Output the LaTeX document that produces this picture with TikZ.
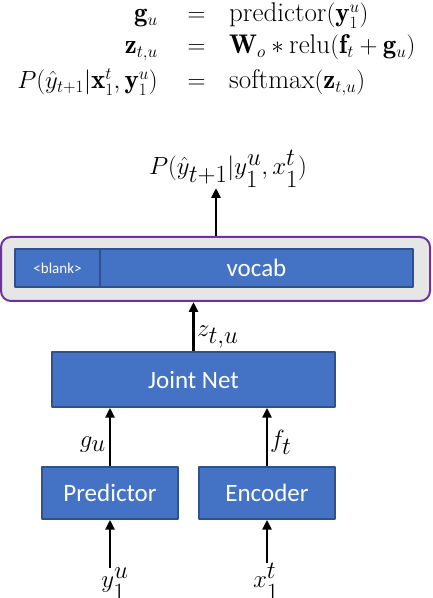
\documentclass[tikz,border=0pt]{standalone}
\usepackage{amsmath,amssymb}
\usepackage{fontspec}
\newfontfamily\boxfont{Carlito}
\usetikzlibrary{arrows.meta, positioning, calc}

\definecolor{netblue}{HTML}{4472C4}
\definecolor{netedge}{HTML}{2F528F}
\definecolor{softgray}{HTML}{E7E6E6}
\definecolor{softpurple}{HTML}{7030A0}

\tikzset{
  netbox/.style={draw=netedge, line width=1.5pt, fill=netblue, text=white,
    font=\boxfont\fontsize{25}{30}\selectfont, inner sep=0pt},
  flow/.style={-{Triangle[length=10pt,width=9pt]}, line width=2.8pt},
  eqtext/.style={inner sep=0pt, font=\fontsize{27}{32}\selectfont},
  sym/.style={inner sep=0pt, font=\fontsize{36}{42}\selectfont},
}

\begin{document}
\begin{tikzpicture}[x=1pt, y=1pt, line join=round]
    \useasboundingbox (0,0) rectangle (432,598);

    % Equations
    \node[eqtext, anchor=base east] (lhsg) at (158,576) {$\mathbf{g}_u$};
    \node[eqtext, anchor=base] (eqg) at (196.5,576) {$=$};
    \node[eqtext, anchor=base west] (rhsg) at (229,576) {$\mathrm{predictor}(\mathbf{y}_1^u)$};

    \node[eqtext, anchor=base east] (lhsz) at (158,544) {$\mathbf{z}_{t,u}$};
    \node[eqtext, anchor=base] (eqz) at (196.5,544) {$=$};
    \node[eqtext, anchor=base west] (rhsz) at (229,544) {$\mathbf{W}_o * \mathrm{relu}(\mathbf{f}_t + \mathbf{g}_u)$};

    \node[eqtext, anchor=base east] (lhsp) at (158,509) {$P(\hat{y}_{t+1}|\mathbf{x}_1^t, \mathbf{y}_1^u)$};
    \node[eqtext, anchor=base] (eqp) at (196.5,509) {$=$};
    \node[eqtext, anchor=base west] (rhsp) at (229,509) {$\mathrm{softmax}(\mathbf{z}_{t,u})$};

    % Output layer
    \node[draw=softpurple, line width=2pt, fill=softgray, rounded corners=10pt,
          minimum width=429, minimum height=64, inner sep=0pt] (softmax) at (215.5,329) {};
    \node[netbox, minimum width=85, minimum height=38,
          font=\boxfont\fontsize{15}{18}\selectfont] (blank) at (57.5,330) {<blank>};
    \node[netbox, minimum width=313, minimum height=38] (vocab) at (256.5,330) {vocab};

    % Network blocks
    \node[netbox, minimum width=283, minimum height=55] (joint) at (193.5,218.5) {Joint Net};
    \node[netbox, minimum width=136, minimum height=52] (pred) at (110,105) {Predictor};
    \node[netbox, minimum width=136, minimum height=52] (enc) at (267,105) {Encoder};

    % Labels
    \node[sym, anchor=base] (out) at (228,423) {$P(\hat{y}_{t+1}|y_1^u,x_1^t)$};
    \coordinate (outtip) at (216,410);
    \node[sym, anchor=base west] (zlab) at (197,261) {$z_{t,u}$};
    \node[sym, anchor=base east] (glab) at (106,150) {$g_u$};
    \node[sym, anchor=base west] (flab) at (270,150) {$f_t$};
    \node[sym, font=\fontsize{34}{40}\selectfont, anchor=base] (yin) at (115,10) {$y_1^u$};
    \node[sym, font=\fontsize{34}{40}\selectfont, anchor=base] (xin) at (266,10) {$x_1^t$};

    % Arrows
    \draw[flow] (pred.south |- yin.north) -- (pred.south);
    \draw[flow] (enc.south |- xin.north) -- (enc.south);
    \draw[flow] (pred.north) -- (pred.north |- joint.south);
    \draw[flow] (enc.north) -- (enc.north |- joint.south);
    \draw[flow] (joint.north) -- (joint.north |- softmax.south);
    \draw[flow] (softmax.north -| outtip) -- (outtip);

\end{tikzpicture}
\end{document}
